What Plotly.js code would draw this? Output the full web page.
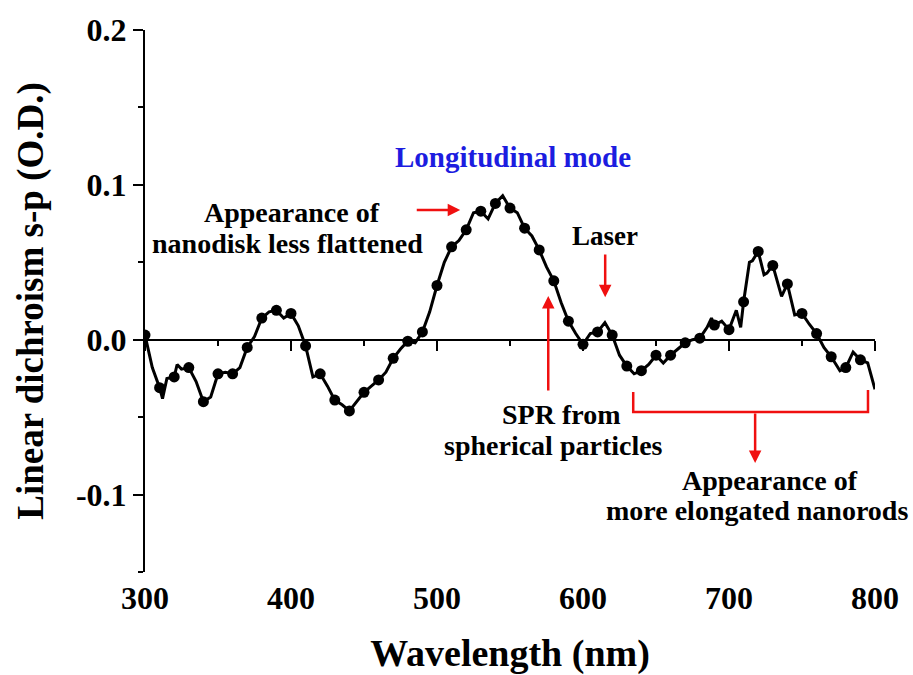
<!DOCTYPE html>
<html>
<head>
<meta charset="utf-8">
<script src="https://cdn.plot.ly/plotly-3.0.1.min.js"></script>
<style>
html,body{margin:0;padding:0;background:#fff;}
#chart{width:913px;height:675px;}
</style>
</head>
<body>
<div id="chart"></div>
<script>
// Wavelength (nm)
const wavelength = [300,305,310,312,315,320,322,325,330,335,340,345,350,355,360,365,370,375,380,385,390,395,400,405,410,415,420,425,430,435,440,445,450,455,460,465,470,475,480,485,490,495,500,505,510,515,520,525,530,535,540,545,550,555,560,565,570,575,580,585,590,595,600,605,610,615,620,625,630,635,640,645,650,655,660,665,670,675,680,685,688,690,695,700,705,708,710,714,716,720,724,726,730,736,740,745,750,755,760,765,770,776,780,785,790,795,800];
// Linear dichroism s-p (O.D.)
const dichroism = [0.003,-0.018,-0.031,-0.038,-0.025,-0.024,-0.016,-0.019,-0.018,-0.027,-0.040,-0.037,-0.022,-0.021,-0.022,-0.018,-0.005,0.002,0.014,0.018,0.019,0.014,0.017,0.009,-0.004,-0.024,-0.022,-0.030,-0.039,-0.042,-0.046,-0.040,-0.034,-0.030,-0.026,-0.021,-0.012,-0.006,-0.001,-0.002,0.005,0.018,0.035,0.050,0.060,0.064,0.071,0.082,0.083,0.078,0.088,0.093,0.085,0.082,0.072,0.067,0.058,0.047,0.038,0.024,0.012,0.004,-0.003,0.004,0.005,0.011,0.003,-0.010,-0.017,-0.022,-0.020,-0.016,-0.010,-0.015,-0.010,-0.006,-0.002,0.000,0.001,0.008,0.014,0.0095,0.012,0.0065,0.019,0.008,0.0245,0.050,0.051,0.057,0.042,0.043,0.048,0.028,0.036,0.016,0.017,0.010,0.004,-0.005,-0.011,-0.020,-0.018,-0.008,-0.013,-0.015,-0.032];
// Wavelengths that carry a symbol
const symbolWavelengths = [300,310,320,330,340,350,360,370,380,390,400,410,420,430,440,450,460,470,480,490,500,510,520,530,540,550,560,570,580,590,600,610,620,630,640,650,660,670,680,690,700,710,720,730,740,750,760,770,780,790];

const xTickVals = [300,400,500,600,700,800];
const yTickVals = [-0.1,0.0,0.1,0.2];
const yTickText = ['-0.1','0.0','0.1','0.2'];

const markerSizes = wavelength.map(w => symbolWavelengths.includes(w) ? 11 : 0);

const serif = 'Liberation Serif, Times New Roman, serif';
const red = '#f01010';

const traces = [
  {
    x: wavelength, y: dichroism, type: 'scatter', mode: 'lines+markers',
    line: {color: '#000', width: 3, shape: 'linear'},
    marker: {color: '#000', size: markerSizes, symbol: 'circle', opacity: 1, line: {width: 0}},
    xaxis: 'x', yaxis: 'y', showlegend: false, hoverinfo: 'x+y'
  },
  {
    x: [], y: [], type: 'scatter', mode: 'lines',
    xaxis: 'x2', yaxis: 'y', showlegend: false, hoverinfo: 'skip'
  }
];

const txt = (x, y, text, size, color) => ({
  x: x, y: y, xref: 'x', yref: 'y', text: text, showarrow: false,
  font: {family: serif, size: size, weight: 'bold', color: color || '#000'}
});
const arrow = (x, y, ax, ay) => ({
  x: x, y: y, ax: ax, ay: ay, xref: 'x', yref: 'y', axref: 'x', ayref: 'y', text: '',
  showarrow: true, arrowhead: 2, arrowsize: 1, arrowwidth: 2.5, arrowcolor: red
});

const layout = {
  width: 913, height: 675,
  margin: {l: 145, r: 38, t: 30, b: 103},
  paper_bgcolor: '#fff', plot_bgcolor: '#fff',
  showlegend: false,
  font: {family: serif, color: '#000'},
  xaxis: {
    range: [300, 800], tickvals: xTickVals,
    showline: false, showgrid: false, zeroline: false,
    ticks: '', ticklabelstandoff: 4,
    tickfont: {family: serif, size: 32, weight: 'bold', color: '#000'},
    title: {text: 'Wavelength (nm)', font: {family: serif, size: 38, weight: 'bold', color: '#000'}, standoff: 30}
  },
  xaxis2: {
    overlaying: 'x', anchor: 'free', position: 0.15/0.35, side: 'bottom',
    range: [300, 800], tick0: 300, dtick: 100,
    showline: true, linecolor: '#000', linewidth: 2,
    ticks: 'outside', ticklen: 10, tickwidth: 2, tickcolor: '#000',
    minor: {dtick: 50, tick0: 300, ticks: 'outside', ticklen: 5, tickwidth: 2, tickcolor: '#000'},
    showticklabels: false, showgrid: false, zeroline: false
  },
  yaxis: {
    range: [-0.15, 0.2], tickvals: yTickVals, ticktext: yTickText,
    showline: true, linecolor: '#000', linewidth: 2,
    ticks: 'outside', ticklen: 10, tickwidth: 2, tickcolor: '#000',
    minor: {tickvals: [-0.15,-0.05,0.05,0.15], ticks: 'outside', ticklen: 5, tickwidth: 2, tickcolor: '#000'},
    showgrid: false, zeroline: false,
    tickfont: {family: serif, size: 32, weight: 'bold', color: '#000'},
    title: {text: 'Linear dichroism s-p (O.D.)', font: {family: serif, size: 37, weight: 'bold', color: '#000'}, standoff: 21}
  },
  shapes: [
    {type: 'path', xref: 'x', yref: 'y',
     path: 'M 634.4 -0.0338 L 634.4 -0.0467 L 795.2 -0.0467 L 795.2 -0.0325',
     line: {color: red, width: 2.5}}
  ],
  annotations: [
    txt(552.2, 0.118, 'Longitudinal mode', 29, '#1c1ce0'),
    txt(401.0, 0.0824, 'Appearance of', 28),
    txt(397.9, 0.0624, 'nanodisk less flattened', 28),
    arrow(515.9, 0.0837, 485.1, 0.0837),
    txt(615.2, 0.0669, 'Laser', 27),
    arrow(615.2, 0.0274, 615.2, 0.056),
    arrow(576.2, 0.0282, 576.2, -0.0338),
    txt(585.1, -0.0486, 'SPR from', 28),
    txt(579.6, -0.068, 'spherical particles', 28),
    arrow(717.9, -0.0796, 717.9, -0.0467),
    txt(728.1, -0.0906, 'Appearance of', 28),
    txt(719.2, -0.110, 'more elongated nanorods', 28)
  ]
};

Plotly.newPlot('chart', traces, layout, {displayModeBar: false, staticPlot: true});
</script>
</body>
</html>
